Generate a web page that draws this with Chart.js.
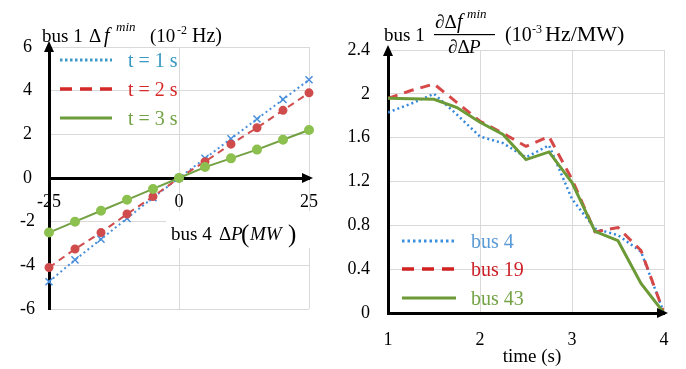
<!DOCTYPE html>
<html>
<head>
<meta charset="utf-8">
<script src="https://cdn.jsdelivr.net/npm/chart.js@4.4.1/dist/chart.umd.min.js"></script>
<style>
  html, body { margin: 0; padding: 0; background: #fff; }
  #wrap { position: relative; width: 686px; height: 369px; }
  #wrap canvas { position: absolute; left: 0; top: 0; }
</style>
</head>
<body>
<div id="wrap">
  <canvas id="left" width="686" height="369"></canvas>
  <canvas id="right" width="686" height="369"></canvas>
</div>
<script>
// 左圖：bus 4 ΔP (MW) 對 bus 1 Δf^min (10^-2 Hz)
const dpMW = [-25, -20, -15, -10, -5, 0, 5, 10, 15, 20, 25];
const dfT1 = [-4.75, -3.75, -2.8, -1.85, -0.9, 0, 0.9, 1.8, 2.7, 3.6, 4.5];
const dfT2 = [-4.1, -3.25, -2.5, -1.65, -0.85, 0, 0.75, 1.55, 2.3, 3.1, 3.9];
const dfT3 = [-2.5, -2.0, -1.5, -1.0, -0.5, 0, 0.5, 0.9, 1.3, 1.75, 2.2];
const leftXTicks = [-25, 0, 25];
const leftYTicks = [-6, -4, -2, 0, 2, 4, 6];

// 右圖：time (s) 對 靈敏度 (10^-3 Hz/MW)
const times = [1, 1.25, 1.5, 1.75, 2, 2.25, 2.5, 2.75, 3, 3.25, 3.5, 3.75, 4];
const bus4 = [1.83, 1.91, 2.0, 1.81, 1.61, 1.55, 1.42, 1.53, 1.04, 0.77, 0.71, 0.56, 0];
const bus19 = [1.96, 2.03, 2.09, 1.92, 1.75, 1.64, 1.52, 1.61, 1.22, 0.74, 0.78, 0.57, 0];
const bus43 = [1.96, 1.955, 1.95, 1.875, 1.74, 1.63, 1.40, 1.47, 1.19, 0.745, 0.66, 0.27, 0];
const rightXTicks = [1, 2, 3, 4];
const rightYTicks = [0, 0.4, 0.8, 1.2, 1.6, 2, 2.4];

const SERIF = '"Liberation Serif", "Times New Roman", serif';
Chart.defaults.font.family = SERIF;
Chart.defaults.color = '#000';

const GRID = '#d9d9d9';
const pairs = (xs, ys) => xs.map((x, i) => ({ x, y: ys[i] }));
const useTicks = arr => s => { s.ticks = arr.map(v => ({ value: v })); };
const fmt = v => String(+Number(v).toFixed(1));

function put(ctx, s, x, y, size, o = {}) {
  ctx.save();
  ctx.font = (o.italic ? 'italic ' : '') + size + 'px ' + SERIF;
  ctx.fillStyle = o.color || '#000';
  ctx.textAlign = o.align || 'left';
  ctx.textBaseline = 'alphabetic';
  ctx.fillText(s, x, y);
  ctx.restore();
}

function arrowUp(ctx, x, y) {
  ctx.beginPath();
  ctx.moveTo(x, y); ctx.lineTo(x - 5, y + 11); ctx.lineTo(x + 5, y + 11);
  ctx.closePath(); ctx.fillStyle = '#000'; ctx.fill();
}
function arrowRight(ctx, x, y) {
  ctx.beginPath();
  ctx.moveTo(x, y); ctx.lineTo(x - 11, y - 5); ctx.lineTo(x - 11, y + 5);
  ctx.closePath(); ctx.fillStyle = '#000'; ctx.fill();
}
function legendRow(ctx, x1, x2, y, line, label, textColor) {
  ctx.save();
  ctx.strokeStyle = line.color;
  ctx.lineWidth = line.width;
  ctx.setLineDash(line.dash);
  ctx.beginPath(); ctx.moveTo(x1, y); ctx.lineTo(x2, y); ctx.stroke();
  ctx.restore();
  put(ctx, label.text, label.x, y + 7, 20, { color: textColor });
}

const leftDecor = {
  id: 'leftDecor',
  afterDraw(chart) {
    const ctx = chart.ctx;
    const a = chart.chartArea;
    const y0 = chart.scales.y.getPixelForValue(0);
    arrowUp(ctx, a.left, a.top - 6);
    arrowRight(ctx, a.right + 4, y0);

    // y 軸標題
    put(ctx, 'bus 1', 42, 42, 19);
    put(ctx, 'Δ', 89, 42, 19);
    put(ctx, 'f', 104, 42, 20, { italic: true });
    put(ctx, 'min', 116, 31, 13, { italic: true });
    put(ctx, '(10', 150, 42, 19);
    put(ctx, '-2', 177, 34, 12);
    put(ctx, 'Hz)', 192, 42, 20);

    // x 軸標題（白底）
    ctx.fillStyle = '#fff';
    ctx.fillRect(166, 211, 148, 37);
    put(ctx, 'bus 4', 171, 240, 19);
    put(ctx, 'Δ', 219, 240, 19);
    put(ctx, 'P', 231, 240, 19, { italic: true });
    put(ctx, '(', 241, 242, 25);
    put(ctx, 'MW', 250, 240, 19, { italic: true });
    put(ctx, ')', 288, 242, 25);

    // 圖例
    legendRow(ctx, 60, 112, 60, { color: '#3d99c7', width: 3, dash: [2.5, 2.5] }, { text: 't = 1 s', x: 128 }, '#3798c2');
    legendRow(ctx, 60, 112, 89, { color: '#d42a2a', width: 3.5, dash: [12, 8] }, { text: 't = 2 s', x: 128 }, '#d42a2a');
    legendRow(ctx, 60, 112, 118, { color: '#6d9c3a', width: 3, dash: [] }, { text: 't = 3 s', x: 128 }, '#72a245');
  }
};

const rightDecor = {
  id: 'rightDecor',
  afterDraw(chart) {
    const ctx = chart.ctx;
    const a = chart.chartArea;
    arrowUp(ctx, a.left, a.top - 5);
    arrowRight(ctx, a.right + 4, a.bottom);

    // y 軸標題（分式）
    put(ctx, 'bus 1', 384, 41, 19);
    put(ctx, '∂Δ', 435, 28, 19);
    put(ctx, 'f', 457, 28, 20, { italic: true });
    put(ctx, 'min', 467, 18, 13, { italic: true });
    ctx.fillStyle = '#000';
    ctx.fillRect(434, 34, 61, 1.2);
    put(ctx, '∂Δ', 448, 53, 19);
    put(ctx, 'P', 469, 53, 19, { italic: true });
    put(ctx, '(10', 505, 41, 20);
    put(ctx, '-3', 532, 33, 12);
    put(ctx, 'Hz/MW)', 545, 41, 22);

    put(ctx, 'time (s)', 532, 362, 19, { align: 'center' });

    legendRow(ctx, 402, 456, 241, { color: '#3a8fe0', width: 3, dash: [2.5, 3] }, { text: 'bus 4', x: 471 }, '#5b9bd5');
    legendRow(ctx, 402, 456, 269, { color: '#d02020', width: 3.5, dash: [12, 8] }, { text: 'bus 19', x: 471 }, '#cc1f26');
    legendRow(ctx, 402, 456, 298, { color: '#6b9a36', width: 3, dash: [] }, { text: 'bus 43', x: 471 }, '#74a346');
  }
};

new Chart(document.getElementById('left'), {
  type: 'line',
  data: {
    datasets: [
      { label: 't = 1 s', data: pairs(dpMW, dfT1), order: 3, borderColor: '#4a8fdc', borderWidth: 2, borderDash: [2, 3],
        pointStyle: 'crossRot', pointRadius: 5, pointBorderColor: '#4a8fdc', pointBorderWidth: 1.5, clip: false },
      { label: 't = 2 s', data: pairs(dpMW, dfT2), order: 2, borderColor: '#d04c4c', borderWidth: 2, borderDash: [7, 5],
        pointStyle: 'circle', pointRadius: 3.5, pointBackgroundColor: '#d04c4c', pointBorderColor: '#d04c4c', clip: false },
      { label: 't = 3 s', data: pairs(dpMW, dfT3), order: 1, borderColor: '#72a042', borderWidth: 2,
        pointStyle: 'circle', pointRadius: 4, pointBackgroundColor: '#8cc04f', pointBorderColor: '#8cc04f', clip: false }
    ]
  },
  options: {
    responsive: false,
    animation: false,
    layout: { padding: { left: 0, top: 47, right: 377, bottom: 60 } },
    plugins: { legend: { display: false }, tooltip: { enabled: false } },
    scales: {
      x: {
        type: 'linear', min: -25, max: 25, position: { y: 0 },
        afterFit: s => { s.height = 0; },
        afterBuildTicks: useTicks(leftXTicks),
        grid: { color: GRID, drawTicks: false },
        border: { color: '#000', width: 3 },
        ticks: { padding: 13, font: { size: 18 }, color: '#000', maxRotation: 0 }
      },
      y: {
        type: 'linear', min: -6, max: 6,
        afterFit: s => { s.width = 49; },
        afterBuildTicks: useTicks(leftYTicks),
        grid: { color: GRID, drawTicks: false },
        border: { color: '#000', width: 3 },
        ticks: { padding: 14, crossAlign: 'center', font: { size: 18 }, color: '#000', callback: fmt }
      }
    }
  },
  plugins: [leftDecor]
});

new Chart(document.getElementById('right'), {
  type: 'line',
  data: {
    datasets: [
      { label: 'bus 4', data: pairs(times, bus4), order: 3, borderColor: '#3388dd', borderWidth: 2.5, borderDash: [2, 3], pointRadius: 0 },
      { label: 'bus 19', data: pairs(times, bus19), order: 2, borderColor: '#d64848', borderWidth: 3, borderDash: [10, 7], pointRadius: 0 },
      { label: 'bus 43', data: pairs(times, bus43), order: 1, borderColor: '#6b9a36', borderWidth: 3, pointRadius: 0 }
    ]
  },
  options: {
    responsive: false,
    animation: false,
    layout: { padding: { left: 343, top: 50, right: 22, bottom: 0 } },
    plugins: { legend: { display: false }, tooltip: { enabled: false } },
    scales: {
      x: {
        type: 'linear', min: 1, max: 4, position: 'bottom',
        afterFit: s => { s.height = 56; },
        afterBuildTicks: useTicks(rightXTicks),
        grid: { color: GRID, drawTicks: false },
        border: { color: '#000', width: 3 },
        ticks: { padding: 16, font: { size: 18 }, color: '#000', maxRotation: 0 }
      },
      y: {
        type: 'linear', min: 0, max: 2.4,
        afterFit: s => { s.width = 45; },
        afterBuildTicks: useTicks(rightYTicks),
        grid: { color: GRID, drawTicks: false },
        border: { color: '#000', width: 3 },
        ticks: { padding: 18, font: { size: 18 }, color: '#000', callback: fmt }
      }
    }
  },
  plugins: [rightDecor]
});
</script>
</body>
</html>
